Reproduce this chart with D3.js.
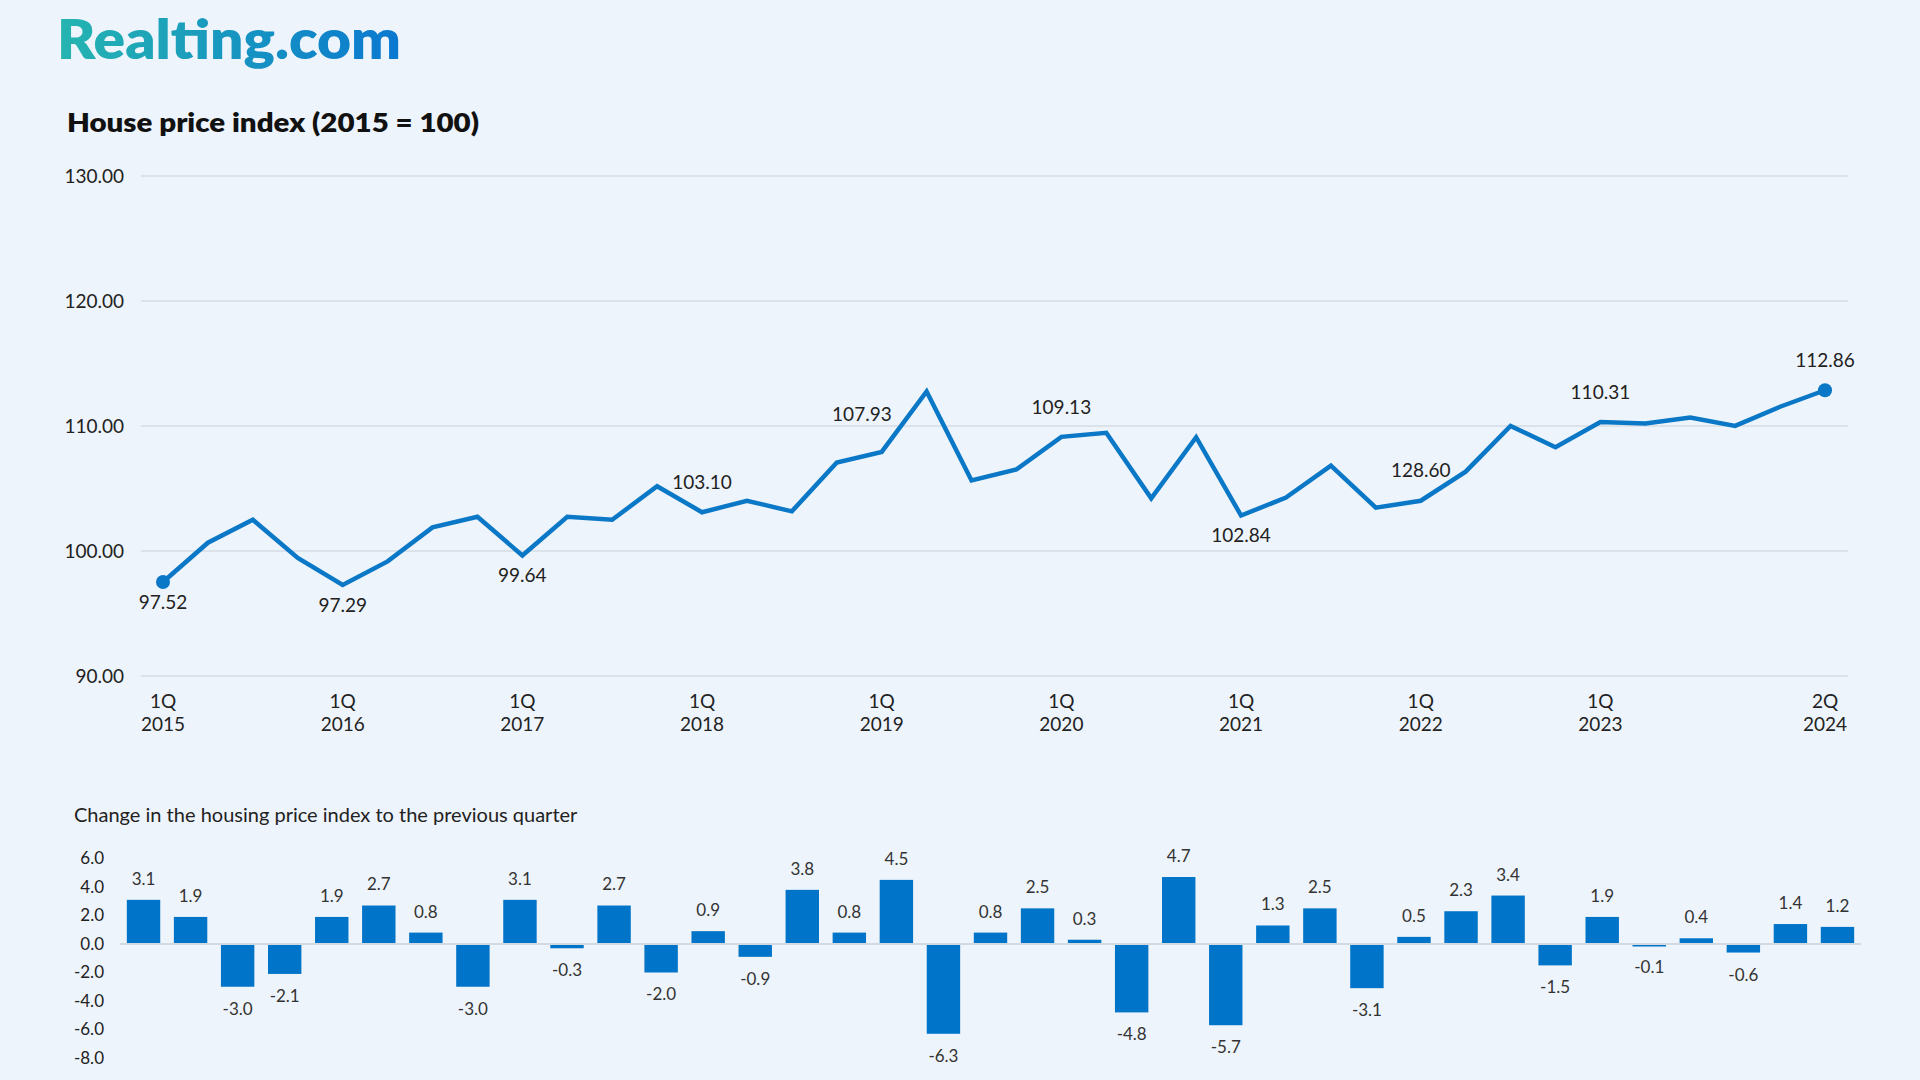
<!DOCTYPE html>
<html>
<head>
<meta charset="utf-8">
<script src="https://cdn.jsdelivr.net/npm/d3@7"></script>
<style>
  html, body { margin: 0; padding: 0; background: #eef4fb; }
  svg { display: block; }
  text { font-family: Lato, "Open Sans", sans-serif; }
</style>
</head>
<body>
<svg id="chart" width="1920" height="1080"></svg>
<script>
// ---------------- DATA ----------------
const quarters = [
  "1Q 2015","2Q 2015","3Q 2015","4Q 2015",
  "1Q 2016","2Q 2016","3Q 2016","4Q 2016",
  "1Q 2017","2Q 2017","3Q 2017","4Q 2017",
  "1Q 2018","2Q 2018","3Q 2018","4Q 2018",
  "1Q 2019","2Q 2019","3Q 2019","4Q 2019",
  "1Q 2020","2Q 2020","3Q 2020","4Q 2020",
  "1Q 2021","2Q 2021","3Q 2021","4Q 2021",
  "1Q 2022","2Q 2022","3Q 2022","4Q 2022",
  "1Q 2023","2Q 2023","3Q 2023","4Q 2023",
  "1Q 2024","2Q 2024"
];
const indexValues = [
  97.52,100.66,102.50,99.44,
  97.29,99.17,101.89,102.74,
  99.64,102.74,102.50,105.18,
  103.10,104.02,103.17,107.08,
  107.93,112.76,105.64,106.53,
  109.13,109.46,104.21,109.10,
  102.84,104.27,106.83,103.47,
  104.02,106.35,110.01,108.30,
  110.31,110.20,110.68,110.01,
  111.54,112.86
];
const tickQuarters = ["1Q 2015","1Q 2016","1Q 2017","1Q 2018","1Q 2019","1Q 2020","1Q 2021","1Q 2022","1Q 2023","2Q 2024"];
const indexTicks = [90,100,110,120,130];
const labeledQuarters = ["1Q 2015","1Q 2016","1Q 2017","1Q 2018","1Q 2019","1Q 2020","1Q 2021","1Q 2022","1Q 2023","2Q 2024"];
const labelTexts      = ["97.52","97.29","99.64","103.10","107.93","109.13","102.84","128.60","110.31","112.86"];
const labelSides      = ["below","below","below","above","above-left","above","below","above","above","above"];
const dotQuarters = ["1Q 2015","2Q 2024"];

const changeQuarters = quarters.slice(1);
const changeValues = [
  3.1,1.9,-3.0,-2.1,1.9,2.7,0.8,-3.0,3.1,-0.3,2.7,-2.0,0.9,-0.9,3.8,0.8,4.5,-6.3,
  0.8,2.5,0.3,-4.8,4.7,-5.7,1.3,2.5,-3.1,0.5,2.3,3.4,-1.5,1.9,-0.1,0.4,-0.6,1.4,1.2
];
const changeTicks = [6,4,2,0,-2,-4,-6,-8];

// ---------------- DRAW ----------------
const svg = d3.select("#chart");
const lineColor = "#0a78c6";
const barColor = "#0074c8";
const textColor = "#222";
const fmt1 = v => d3.format(".1f")(v).replace("\u2212","-");
const fmt2 = v => d3.format(".2f")(v).replace("\u2212","-");

// Logo
const defs = svg.append("defs");
const grad = defs.append("linearGradient").attr("id","logoGrad")
  .attr("x1","0%").attr("x2","100%").attr("y1","0%").attr("y2","0%");
grad.append("stop").attr("offset","0%").attr("stop-color","#25b5b0");
grad.append("stop").attr("offset","100%").attr("stop-color","#0a78d0");
svg.append("text").attr("x",57).attr("y",59)
  .attr("font-size",54).attr("font-weight",800)
  .attr("fill","url(#logoGrad)")
  .attr("textLength",344).attr("lengthAdjust","spacingAndGlyphs")
  .text("Realting.com");

// Title
svg.append("text").attr("x",67).attr("y",132)
  .attr("font-size",27).attr("font-weight",800).attr("fill","#111")
  .attr("textLength",412).attr("lengthAdjust","spacingAndGlyphs")
  .text("House price index (2015 = 100)");

// Top chart scales
const x = d3.scalePoint().domain(quarters).range([163,1825]);
const y = d3.scaleLinear().domain([90,130]).range([676,176]);

// grid
const gTop = svg.append("g");
gTop.selectAll("line.grid").data(indexTicks).join("line")
  .attr("x1",141).attr("x2",1848)
  .attr("y1",d=>y(d)).attr("y2",d=>y(d))
  .attr("stroke","#d6dce3").attr("stroke-width",1.5);

// y axis labels
const yAxis = d3.axisLeft(y).tickValues(indexTicks).tickFormat(fmt2).tickSize(0).tickPadding(0);
const gy = svg.append("g").attr("transform","translate(124,0)").call(yAxis);
gy.select(".domain").remove();
gy.selectAll("text").attr("font-size",19).attr("fill",textColor).attr("font-family","Lato, sans-serif");

// x axis labels (two lines)
const gx = svg.append("g");
gx.selectAll("text.xt").data(tickQuarters).join("text")
  .attr("x",d=>x(d)).attr("y",701)
  .attr("text-anchor","middle").attr("font-size",19).attr("fill",textColor)
  .selectAll("tspan").data(d=>d.split(" ").map(s=>({s, q:d}))).join("tspan")
  .attr("x",d=>x(d.q)).attr("dy",(d,i)=>i===0?"0.35em":"23")
  .text(d=>d.s);

// line
const line = d3.line().x((d,i)=>x(quarters[i])).y(d=>y(d));
svg.append("path").datum(indexValues)
  .attr("d",line).attr("fill","none")
  .attr("stroke",lineColor).attr("stroke-width",4.5).attr("stroke-linejoin","miter");

// dots
svg.selectAll("circle.dot").data(dotQuarters).join("circle")
  .attr("cx",d=>x(d)).attr("cy",d=>y(indexValues[quarters.indexOf(d)]))
  .attr("r",7).attr("fill",lineColor);

// data labels
svg.selectAll("text.dl").data(labeledQuarters).join("text")
  .attr("x",(d,i)=>labelSides[i]==="above-left" ? x(d)+10 : x(d))
  .attr("y",(d,i)=>{
    const v = indexValues[quarters.indexOf(d)];
    if (labelSides[i]==="above-left") return y(v)-38;
    return labelSides[i]==="above" ? y(v)-30 : y(v)+20;
  })
  .attr("dy","0.35em")
  .attr("text-anchor",(d,i)=>labelSides[i]==="above-left" ? "end" : "middle")
  .attr("font-size",19).attr("fill",textColor)
  .text((d,i)=>labelTexts[i]);

// ---------------- Bar chart ----------------
svg.append("text").attr("x",74).attr("y",815).attr("dy","0.35em")
  .attr("font-size",20).attr("fill",textColor)
  .text("Change in the housing price index to the previous quarter");

const xb = d3.scaleBand().domain(changeQuarters).range([120,1861]).paddingInner(0.29).paddingOuter(0.145);
const yb = d3.scaleLinear().domain([-8,6]).range([1058,858.5]);

const gyb = svg.append("g").attr("transform","translate(104,0)")
  .call(d3.axisLeft(yb).tickValues(changeTicks).tickFormat(fmt1).tickSize(0).tickPadding(0));
gyb.select(".domain").remove();
gyb.selectAll("text").attr("font-size",17).attr("fill",textColor).attr("font-family","Lato, sans-serif");

// zero line
svg.append("line").attr("x1",120).attr("x2",1861)
  .attr("y1",yb(0)).attr("y2",yb(0))
  .attr("stroke","#d3d9e0").attr("stroke-width",2);

svg.selectAll("rect.bar").data(changeValues).join("rect")
  .attr("x",(d,i)=>xb(changeQuarters[i]))
  .attr("width",xb.bandwidth())
  .attr("y",d=>d>=0?yb(d):yb(0)+1)
  .attr("height",d=>Math.max(1.5,Math.abs(yb(d)-yb(0))-1))
  .attr("fill",barColor);

svg.selectAll("text.bl").data(changeValues).join("text")
  .attr("x",(d,i)=>xb(changeQuarters[i])+xb.bandwidth()/2)
  .attr("y",d=>d>=0?yb(d)-21:yb(d)+22)
  .attr("dy","0.35em")
  .attr("text-anchor","middle").attr("font-size",17).attr("fill","#333")
  .text(d=>fmt1(d));
</script>
</body>
</html>
